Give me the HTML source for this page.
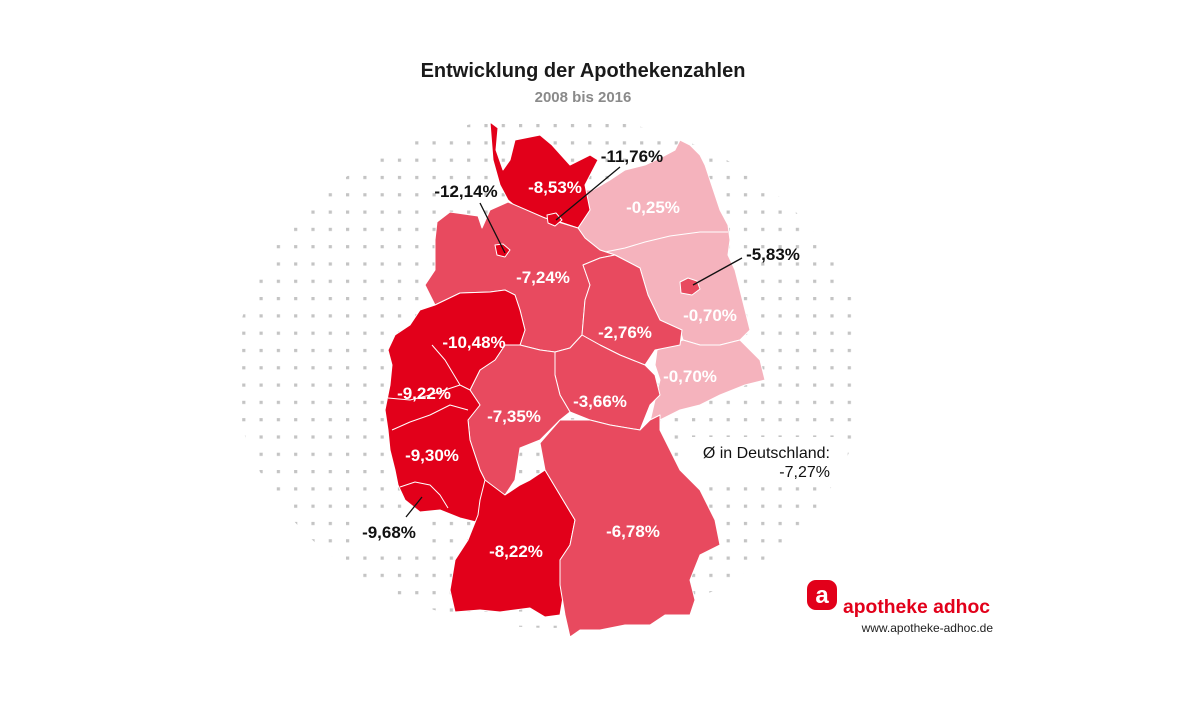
<!DOCTYPE html>
<html><head><meta charset="utf-8"><style>
html,body{margin:0;padding:0;background:#fff;}
svg{display:block;}
text{font-family:"Liberation Sans",sans-serif;}
</style></head><body>
<svg width="1200" height="718" viewBox="0 0 1200 718" xmlns="http://www.w3.org/2000/svg">
<defs>
<pattern id="dots" patternUnits="userSpaceOnUse" x="519" y="124" width="17.3" height="17.3">
<rect x="0" y="0" width="3.2" height="3.2" fill="#c4c4c4"/>
</pattern>
<clipPath id="cl"><ellipse cx="550" cy="372" rx="315" ry="256"/></clipPath>
</defs>
<rect x="0" y="0" width="1200" height="718" fill="url(#dots)" clip-path="url(#cl)"/>
<rect x="685" y="437" width="160" height="45" fill="#fff"/>
<rect x="350" y="515" width="80" height="30" fill="#fff"/>

<text x="583" y="77" text-anchor="middle" font-size="20" font-weight="bold" fill="#1a1a1a">Entwicklung der Apothekenzahlen</text>
<text x="583" y="102" text-anchor="middle" font-size="15" font-weight="bold" fill="#8a8a8a">2008 bis 2016</text>

<g stroke="#fff" stroke-width="1" stroke-linejoin="round">
<polygon fill="#f5b3bd" points="593,190 610,180 625,170 645,165 660,158 675,150 680,140 690,145 700,155 705,165 710,180 715,195 720,210 728,225 730,240 728,255 735,270 740,290 745,310 750,330 740,340 720,345 700,345 683,340 680,330 660,320 648,295 640,268 615,255 600,250 585,238 578,228 590,210 585,190"/>
<polyline fill="none" points="605,252 625,248 645,242 670,236 700,232 728,232"/>
<polygon fill="#f5b3bd" points="683,340 700,345 720,345 740,340 750,350 760,360 765,380 745,385 720,395 700,405 680,410 660,420 648,430 655,400 660,380 655,365 657,350"/>
<polygon fill="#e2001a" points="490,122 498,128 496,150 503,170 510,160 515,140 540,135 552,145 570,165 590,155 598,160 585,185 590,210 578,228 560,222 545,218 520,210 508,200 500,185 493,160"/>
<polygon fill="#e84a5f" points="437,222 450,212 478,216 482,228 490,210 508,202 545,218 578,228 585,238 600,250 615,255 600,258 583,265 590,285 585,300 582,335 570,348 555,352 540,350 520,345 525,330 520,310 515,295 505,290 490,292 460,293 435,305 425,285 435,270 435,240"/>
<polygon fill="#e84a5f" points="583,265 600,258 615,255 640,268 648,295 660,320 682,330 680,345 655,350 645,365 620,355 600,345 582,335 585,300 590,285"/>
<polygon fill="#e84a5f" points="582,335 600,345 620,355 645,365 655,375 660,395 650,405 640,430 610,425 590,420 570,412 560,395 555,375 555,352 570,348"/>
<polygon fill="#e84a5f" points="520,345 540,350 555,352 555,375 560,395 570,412 560,420 540,440 520,448 515,480 505,495 490,490 480,470 470,440 468,420 480,405 470,390 480,370 495,360 505,345"/>
<polygon fill="#e2001a" points="460,293 490,292 505,290 515,295 520,310 525,330 520,345 505,345 495,360 480,370 470,390 480,405 468,420 470,440 480,470 490,490 485,500 480,523 460,518 440,510 420,512 405,500 398,485 395,470 390,450 388,430 385,410 390,385 392,365 388,350 395,335 410,325 420,310 435,305"/>
<polyline fill="none" points="432,345 445,360 460,385 470,390"/>
<polyline fill="none" points="388,398 410,400 430,395 445,390 460,385"/>
<polyline fill="none" points="392,430 410,422 430,415 450,405 468,410"/>
<polyline fill="none" points="400,487 415,482 430,485 440,495 448,508"/>
<polygon fill="#e2001a" points="485,480 505,495 520,485 530,480 545,470 560,495 575,520 570,545 560,560 565,585 560,615 545,617 530,608 500,612 480,610 455,612 450,590 455,560 468,540 478,515 480,500"/>
<polygon fill="#e84a5f" points="560,420 590,420 610,425 640,430 650,420 660,415 660,430 665,440 680,470 700,490 715,520 720,545 700,555 690,580 695,600 690,615 665,615 650,625 625,625 600,630 580,630 570,637 565,615 560,585 560,560 570,545 575,520 560,495 545,470 540,443"/>
<polygon fill="#e84a5f" points="680,282 688,278 697,281 700,289 692,295 681,293"/>
<polygon fill="#e2001a" points="547,215 556,213 562,220 555,226 548,223"/>
<polygon fill="#e2001a" points="495,245 503,244 510,250 505,257 497,255"/>
</g>

<g stroke="#111" stroke-width="1.3">
<line x1="480" y1="203" x2="505" y2="253"/>
<line x1="620" y1="167" x2="556" y2="220"/>
<line x1="742" y1="258" x2="693" y2="285"/>
<line x1="406" y1="517" x2="422" y2="497"/>
</g>

<g font-size="17" font-weight="bold" fill="#fff" text-anchor="middle">
<text x="555" y="193">-8,53%</text>
<text x="653" y="213">-0,25%</text>
<text x="543" y="283">-7,24%</text>
<text x="625" y="338">-2,76%</text>
<text x="710" y="321">-0,70%</text>
<text x="474" y="348">-10,48%</text>
<text x="690" y="382">-0,70%</text>
<text x="424" y="399">-9,22%</text>
<text x="514" y="422">-7,35%</text>
<text x="600" y="407">-3,66%</text>
<text x="432" y="461">-9,30%</text>
<text x="633" y="537">-6,78%</text>
<text x="516" y="557">-8,22%</text>
</g>
<g font-size="17" font-weight="bold" fill="#111" text-anchor="middle">
<text x="466" y="197">-12,14%</text>
<text x="632" y="162">-11,76%</text>
<text x="773" y="260">-5,83%</text>
<text x="389" y="538">-9,68%</text>
</g>
<text x="830" y="458" text-anchor="end" font-size="16" fill="#111">Ø in Deutschland:</text>
<text x="830" y="477" text-anchor="end" font-size="16" fill="#111">-7,27%</text>

<rect x="807" y="580" width="30" height="30" rx="9" fill="#e2001a"/>
<text x="822" y="603" text-anchor="middle" font-size="24" font-weight="bold" fill="#fff">a</text>
<text x="843" y="613" font-size="19" font-weight="bold" fill="#e2001a" textLength="147" lengthAdjust="spacingAndGlyphs">apotheke adhoc</text>
<text x="993" y="632" text-anchor="end" font-size="12" fill="#222">www.apotheke-adhoc.de</text>
</svg>
</body></html>
